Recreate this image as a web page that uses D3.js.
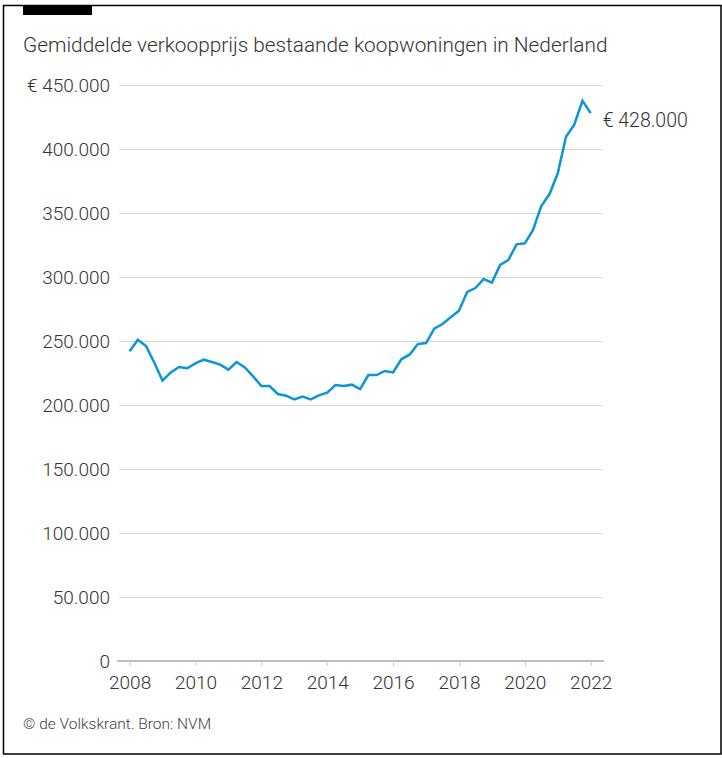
<!DOCTYPE html>
<html><head><meta charset="utf-8">
<script src="https://cdn.jsdelivr.net/npm/d3@7"></script>
<style>
html,body{margin:0;padding:0;background:#fff;}
svg{display:block;font-family:Roboto, "Noto Sans", sans-serif;}
</style></head>
<body><svg id="c" width="722" height="758"></svg>
<script>
const title = "Gemiddelde verkoopprijs bestaande koopwoningen in Nederland";
const footer = "© de Volkskrant. Bron: NVM";
const startYear = 2008;
// quarterly average sale price (euros), 2008 Q1 .. 2022 Q1
const prices = [
  242000, 251000, 246000, 233000, 219000, 225500, 229700, 228700,
  232500, 235400, 233600, 231500, 227600, 233600, 229400, 222400,
  214800, 214800, 208600, 207300, 204400, 206500, 204400, 207500,
  209600, 215600, 214800, 215900, 212500, 223400, 223400, 226600,
  225500, 235700, 239300, 247600, 248400, 259600, 263300, 268500,
  273700, 288300, 291400, 298400, 295600, 309400, 313300, 325500,
  326300, 336700, 355500, 364800, 381000, 409600, 419000, 437700,
  428000
];
const yTicks = [0, 50000, 100000, 150000, 200000, 250000, 300000, 350000, 400000, 450000];
const xTicks = [2008, 2010, 2012, 2014, 2016, 2018, 2020, 2022];
const endLabel = "€ 428.000";

const data = prices.map((v, i) => ({t: startYear + i / 4, v}));

const svg = d3.select("#c");
const textCol = "#333";

// frame
svg.append("rect").attr("x", 3.5).attr("y", 5.5).attr("width", 717.5).attr("height", 748.5)
  .attr("fill", "none").attr("stroke", "#000").attr("stroke-width", 1.5);
svg.append("rect").attr("x", 23).attr("y", 5).attr("width", 69).attr("height", 10).attr("fill", "#000");

svg.append("text").attr("x", 23).attr("y", 52).attr("font-size", 20.8).attr("font-weight", 300)
  .attr("fill", textCol).text(title);

const x = d3.scaleLinear().domain([2008, 2022]).range([129.6, 590.7]);
const y = d3.scaleLinear().domain([0, 450000]).range([661, 85]);

const fmt = v => {
  const s = d3.format(",")(v).replace(/,/g, ".");
  return v === 450000 ? "€ " + s : s;
};

// gridlines + y labels
const yAxis = d3.axisLeft(y).tickValues(yTicks).tickSize(-(602 - 119)).tickFormat(fmt).tickPadding(9);
const gy = svg.append("g").attr("transform", "translate(119,0)").call(yAxis);
gy.select(".domain").remove();
gy.selectAll(".tick line").attr("stroke", "#d4d4d4").attr("stroke-width", 1);
gy.selectAll(".tick text").attr("fill", textCol).attr("font-size", 19).attr("font-weight", 300)
  .attr("font-family", "Roboto, sans-serif");

// x axis
const xAxis = d3.axisBottom(x).tickValues(xTicks).tickFormat(d3.format("d")).tickSize(5).tickPadding(10).tickSizeOuter(0);
const gx = svg.append("g").attr("transform", "translate(0,661)").call(xAxis);
gx.select(".domain").attr("d", "M117,0H604").attr("stroke", "#bdbdbd").attr("stroke-width", 2);
gx.selectAll(".tick line").attr("stroke", "#c8c8c8").attr("stroke-width", 1);
gx.selectAll(".tick text").attr("fill", textCol).attr("font-size", 19).attr("font-weight", 300)
  .attr("font-family", "Roboto, sans-serif");

// line
const line = d3.line().x(d => x(d.t)).y(d => y(d.v));
svg.append("path").datum(data).attr("d", line).attr("fill", "none")
  .attr("stroke", "#0b96d6").attr("stroke-width", 2.5).attr("stroke-linejoin", "miter");

const last = data[data.length - 1];
svg.append("text").attr("x", x(last.t) + 12).attr("y", y(last.v) + 7).attr("dy", "0.35em")
  .attr("font-size", 19.5).attr("font-weight", 300).attr("fill", textCol).text(endLabel);

svg.append("text").attr("x", 23).attr("y", 729).attr("font-size", 15.5).attr("font-weight", 300)
  .attr("fill", "#444").text(footer);
</script></body></html>
